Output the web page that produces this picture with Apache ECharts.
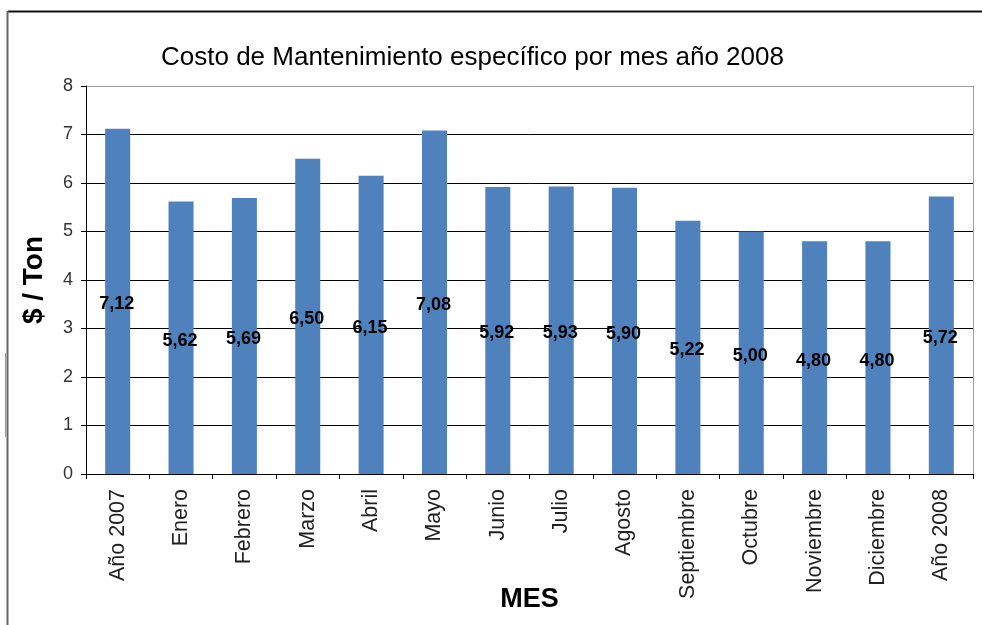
<!DOCTYPE html>
<html>
<head>
<meta charset="utf-8">
<script src="https://cdn.jsdelivr.net/npm/echarts@6/dist/echarts.min.js"></script>
<style>
  html, body { margin: 0; padding: 0; background: #fff; }
  #chart { width: 982px; height: 625px; }
</style>
</head>
<body>
<div id="chart"></div>
<script>
// Monthly specific maintenance cost, $/Ton
const categories = ['Año 2007', 'Enero', 'Febrero', 'Marzo', 'Abril', 'Mayo', 'Junio',
  'Julio', 'Agosto', 'Septiembre', 'Octubre', 'Noviembre', 'Diciembre', 'Año 2008'];
const costValues = [7.12, 5.62, 5.69, 6.50, 6.15, 7.08, 5.92, 5.93, 5.90, 5.22, 5.00, 4.80, 4.80, 5.72];
const yTicks = [0, 1, 2, 3, 4, 5, 6, 7, 8];

const titleText = 'Costo de Mantenimiento específico por mes año 2008';
const yName = '$ / Ton';
const xName = 'MES';

const fontFamily = '"Liberation Sans", Arial, sans-serif';
const chart = echarts.init(document.getElementById('chart'), null, { renderer: 'canvas' });

// One colour per split line; the topmost one is lighter
const splitColors = yTicks.map((t, i) => (i === yTicks.length - 1 ? '#a0a0a0' : '#000'));

chart.setOption({
  animation: false,
  backgroundColor: '#fff',
  title: {
    text: titleText,
    left: 156,
    top: 40,
    textStyle: { fontFamily, fontSize: 26, fontWeight: 'normal', color: '#000' }
  },
  grid: { left: 86, right: 9, top: 86, bottom: 151, containLabel: false, outerBoundsMode: 'none' },
  xAxis: {
    type: 'category',
    data: categories,
    name: xName,
    nameLocation: 'middle',
    nameGap: 112,
    nameMoveOverlap: false,
    nameTextStyle: { fontFamily, fontSize: 27, fontWeight: 'bold', color: '#000' },
    axisLine: { lineStyle: { color: '#000', width: 1 } },
    axisTick: { show: true, alignWithLabel: false, length: 5, lineStyle: { color: '#000' } },
    axisLabel: { rotate: 90, fontFamily, fontSize: 21.5, color: '#222', margin: 15, interval: 0 },
    splitLine: { show: false }
  },
  yAxis: [{
    type: 'value',
    min: yTicks[0],
    max: yTicks[yTicks.length - 1],
    interval: 1,
    name: yName,
    nameLocation: 'middle',
    nameGap: 38,
    nameRotate: 90,
    nameMoveOverlap: false,
    nameTextStyle: { fontFamily, fontSize: 28, fontWeight: 'bold', color: '#000' },
    axisLine: { show: true, lineStyle: { color: '#000', width: 1 } },
    axisTick: { show: true, length: 5, lineStyle: { color: '#000' } },
    axisLabel: { fontFamily, fontSize: 18, color: '#333', margin: 13 },
    splitLine: { show: true, lineStyle: { color: splitColors, width: 1 } }
  }, {
    type: 'value',
    position: 'right',
    min: yTicks[0],
    max: yTicks[yTicks.length - 1],
    interval: 1,
    axisLine: { show: true, lineStyle: { color: '#a0a0a0', width: 1 } },
    axisTick: { show: false },
    axisLabel: { show: false },
    splitLine: { show: false }
  }],
  series: [{
    type: 'bar',
    data: costValues,
    barWidth: '39.5%',
    itemStyle: { color: '#4f81bd' },
    label: {
      show: true,
      position: 'inside',
      offset: [-1, 3],
      fontFamily,
      fontSize: 18,
      fontWeight: 'bold',
      color: '#000',
      formatter: p => p.value.toFixed(2).replace('.', ',')
    }
  }],
  graphic: [
    // outer frame, top and left edges
    { type: 'line', shape: { x1: 8, y1: 11.5, x2: 982, y2: 11.5 }, style: { stroke: '#111', lineWidth: 2 }, silent: true },
    { type: 'line', shape: { x1: 7.5, y1: 11, x2: 7.5, y2: 625 }, style: { stroke: '#666', lineWidth: 2 }, silent: true },
    { type: 'line', shape: { x1: 5.5, y1: 353, x2: 5.5, y2: 437 }, style: { stroke: '#8a9ab0', lineWidth: 1 }, silent: true }
  ]
});
</script>
</body>
</html>
